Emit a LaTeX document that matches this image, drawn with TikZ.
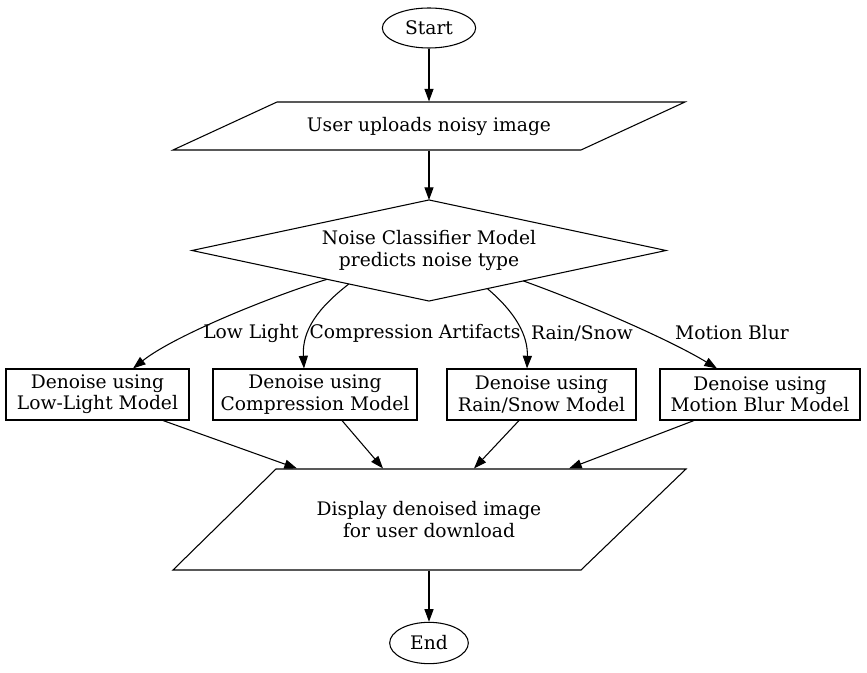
\documentclass[tikz,border=0pt]{standalone}
\usepackage{fontspec}
\setmainfont{DejaVu Serif}
\usetikzlibrary{arrows.meta,shapes.geometric,calc}
\begin{document}
\begin{tikzpicture}[x=0.75pt,y=-0.75pt,
  font=\fontsize{14}{16}\selectfont,
  line width=0.8pt,
  arr/.style={-{Triangle[length=9.5pt,width=6.8pt]}},
  term/.style={ellipse,draw,inner sep=0pt},
  procbox/.style={rectangle,draw,align=center,inner sep=0pt,minimum height=38.25pt},
  iobox/.style={rectangle,draw=none,align=center,inner sep=0pt},
  elabel/.style={inner sep=1pt}]
\useasboundingbox (0,0) rectangle (867,673);

\node[term,minimum width=70pt,minimum height=30pt] (start) at (429,28) {Start};

\node[iobox,minimum width=306pt,minimum height=36pt] (p1) at (429,126) {User uploads noisy image};
\draw (277,102) -- (685,102) -- (581,150) -- (173,150) -- cycle;

\node[iobox,minimum width=354.75pt,minimum height=75pt] (dec) at (429,250.5)
  {Noise Classifier Model\\predicts noise type};
\draw (dec.north) -- (dec.east) -- (dec.south) -- (dec.west) -- cycle;

\node[procbox,minimum width=137.25pt] (b1) at (97.5,394.5) {Denoise using\\Low-Light Model};
\node[procbox,minimum width=153pt] (b2) at (315,394.5) {Denoise using\\Compression Model};
\node[procbox,minimum width=141.75pt] (b3) at (541.5,394.5) {Denoise using\\Rain/Snow Model};
\node[procbox,minimum width=150pt] (b4) at (760,394.5) {Denoise using\\Motion Blur Model};

\node[iobox,minimum width=307.5pt,minimum height=75.75pt] (p2) at (429,519.5) {Display denoised image\\for user download};
\draw (276,469) -- (686,469) -- (581,570) -- (173,570) -- cycle;

\node[term,minimum width=59pt,minimum height=31pt] (end) at (429,643) {End};

\draw[arr] (start) -- (p1);
\draw[arr] (p1) -- (dec);

\draw[arr] ($(dec.south)!0.43!(dec.west)$) .. controls (275,295) and (175,335) .. (b1.north -| 133,0);
\draw[arr] ($(dec.south)!0.338!(dec.west)$) .. controls (318,308) and (302,330) .. (b2.north -| 304,0);
\draw[arr] ($(dec.south)!0.246!(dec.east)$) .. controls (515,312) and (528,335) .. (b3.north -| 527,0);
\draw[arr] ($(dec.south)!0.398!(dec.east)$) .. controls (590,305) and (670,340) .. (b4.north -| 717,0);

\node[elabel] (l1) at (251,333) {Low Light};
\node[elabel] (l2) at (415,333) {Compression Artifacts};
\node[elabel] (l3) at (582,333) {Rain/Snow};
\node[elabel] (l4) at (732,333) {Motion Blur};

\draw[arr] ($(b1.south)+(65.5,0)$) -- ($(p2.north)+(-132,0)$);
\draw[arr] ($(b2.south)+(27,0)$) -- ($(p2.north)+(-46,0)$);
\draw[arr] ($(b3.south)+(-22.5,0)$) -- ($(p2.north)+(45,0)$);
\draw[arr] ($(b4.south)+(-66,0)$) -- ($(p2.north)+(140,0)$);

\draw[arr] (p2) -- (end);
\end{tikzpicture}
\end{document}
